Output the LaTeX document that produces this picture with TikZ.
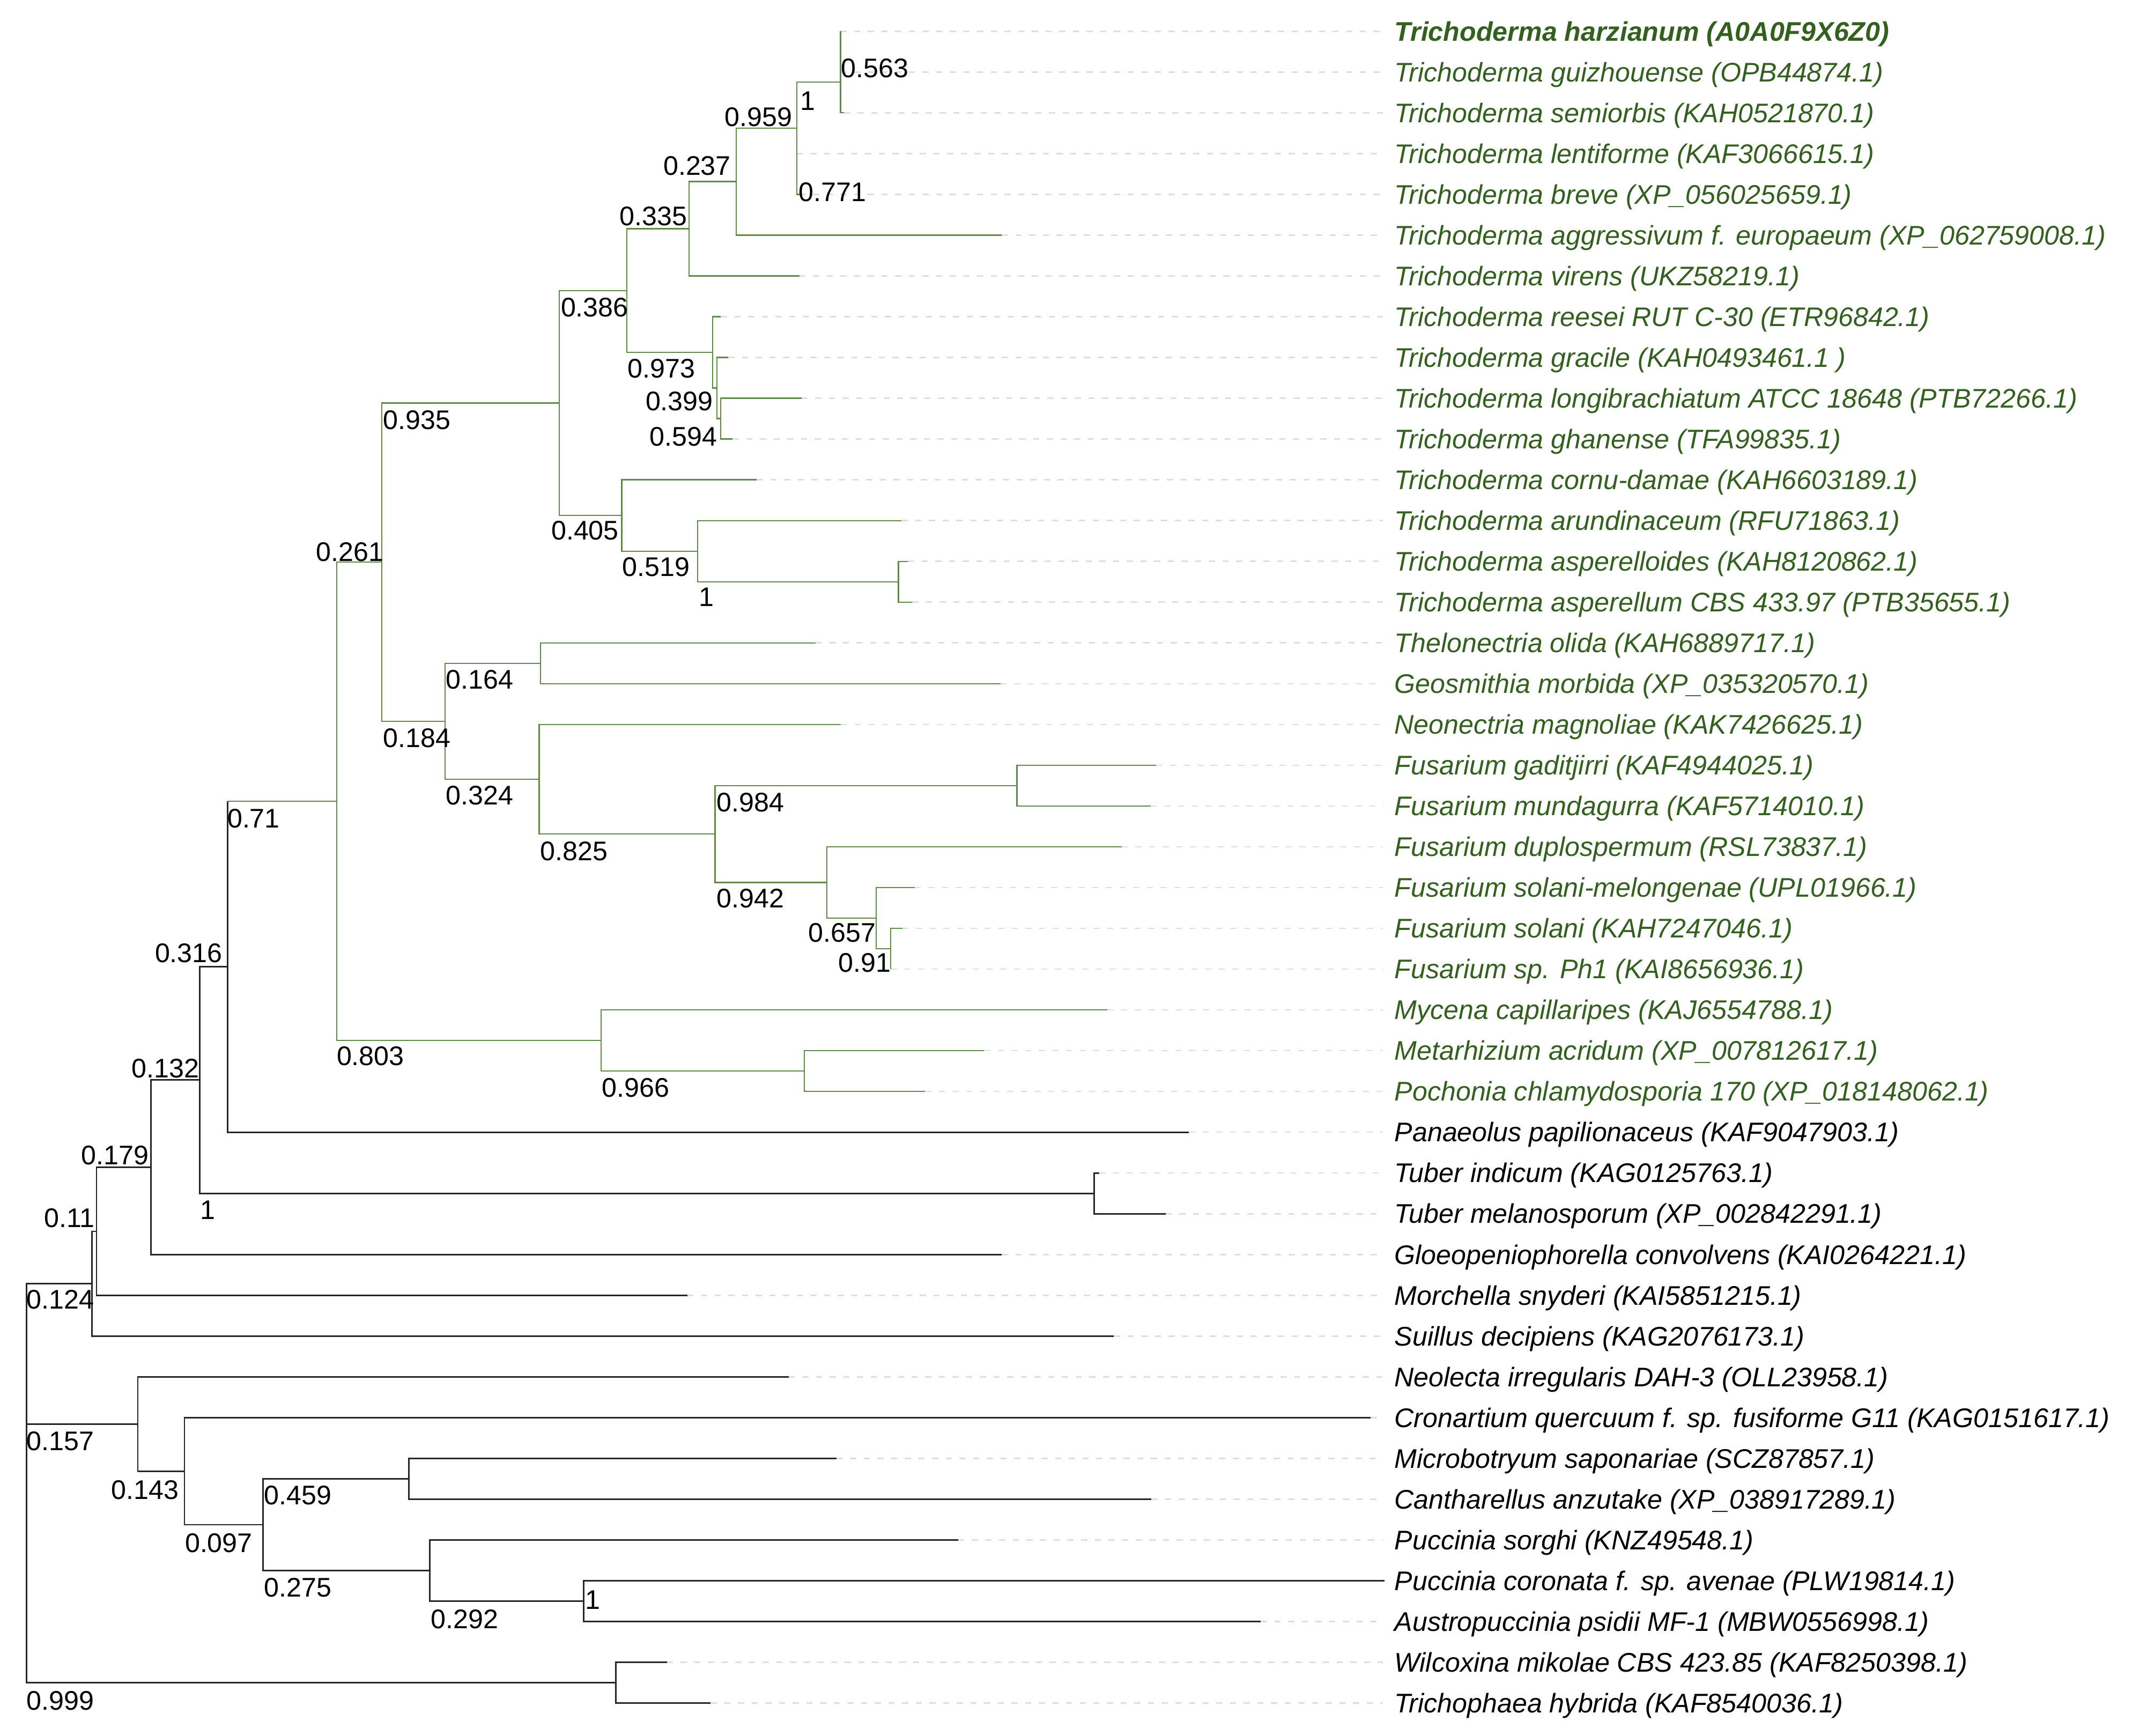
\documentclass[tikz,border=0pt]{standalone}
\usepackage{fontspec}
\setmainfont{Liberation Sans}
\definecolor{branchgreen}{HTML}{5F8A4A}
\definecolor{labelgreen}{HTML}{33601F}
\tikzset{
	gbr/.style={draw=branchgreen, line width=0.45pt},
	kbr/.style={draw=black!85, line width=0.55pt},
	leader/.style={draw=black!13, line width=0.5pt, dash pattern=on 2.25pt off 2.75pt, shorten >=4pt},
	taxon/.style={anchor=base west, inner sep=0pt, font=\fontsize{9.85}{11}\selectfont\itshape},
	gtaxon/.style={taxon, text=labelgreen},
	support/.style={anchor=base west, inner sep=0pt, font=\fontsize{9.85}{11}\selectfont}
}
\begin{document}
\begin{tikzpicture}[x=0.5pt,y=-0.4972pt]
	\useasboundingbox (0,0) rectangle (1560,1277.2);
	
	% leaf tips
	\coordinate (t1) at (615,23);
	\coordinate (t2) at (615,53);
	\coordinate (t3) at (617.5,83);
	\coordinate (t4) at (583,113);
	\coordinate (t5) at (585,143);
	\coordinate (t6) at (733,173);
	\coordinate (t7) at (585,203);
	\coordinate (t8) at (527.4,233);
	\coordinate (t9) at (533,263);
	\coordinate (t10) at (586.4,293);
	\coordinate (t11) at (536,323);
	\coordinate (t12) at (553.8,353);
	\coordinate (t13) at (659.6,383);
	\coordinate (t14) at (664.4,413);
	\coordinate (t15) at (667.5,443);
	\coordinate (t16) at (596.6,473);
	\coordinate (t17) at (732,503);
	\coordinate (t18) at (615.3,533);
	\coordinate (t19) at (846.1,563);
	\coordinate (t20) at (841.9,593);
	\coordinate (t21) at (820.8,623);
	\coordinate (t22) at (669.2,653);
	\coordinate (t23) at (660.2,683);
	\coordinate (t24) at (651.8,713);
	\coordinate (t25) at (810.4,743);
	\coordinate (t26) at (720,773);
	\coordinate (t27) at (677,803);
	\coordinate (t28) at (870,833);
	\coordinate (t29) at (804.4,863);
	\coordinate (t30) at (852.8,893);
	\coordinate (t31) at (733,923);
	\coordinate (t32) at (503,953);
	\coordinate (t33) at (815,983);
	\coordinate (t34) at (577,1013);
	\coordinate (t35) at (1003,1043);
	\coordinate (t36) at (612,1073);
	\coordinate (t37) at (842.5,1103);
	\coordinate (t38) at (701,1133);
	\coordinate (t39) at (1013,1163);
	\coordinate (t40) at (922.5,1193);
	\coordinate (t41) at (488,1223);
	\coordinate (t42) at (520,1253);
	
	% inner nodes
	\coordinate (n563) at (615,38);
	\coordinate (n1a) at (615,60.5);
	\coordinate (n771) at (583,128);
	\coordinate (n959) at (583,94.25);
	\coordinate (n237) at (538.7,133.6);
	\coordinate (n335) at (504.2,168.3);
	\coordinate (n594) at (527.4,308);
	\coordinate (n399) at (524.5,285.5);
	\coordinate (n973) at (521.4,259.25);
	\coordinate (n386) at (458.7,213.8);
	\coordinate (n1b) at (657.4,428);
	\coordinate (n519) at (510.5,405.5);
	\coordinate (n405) at (454.9,379.25);
	\coordinate (n935) at (409.2,296.5);
	\coordinate (n164) at (395.6,488);
	\coordinate (n984) at (744.1,578);
	\coordinate (n91) at (651.8,698);
	\coordinate (n657) at (641,675.5);
	\coordinate (n942) at (605.1,649.25);
	\coordinate (n825) at (523.2,613.6);
	\coordinate (n324) at (394.5,573.3);
	\coordinate (n184) at (325.6,530.7);
	\coordinate (n261) at (279.3,413.6);
	\coordinate (n966) at (588.5,788);
	\coordinate (n803) at (439.9,765.5);
	\coordinate (n71) at (246.3,589.5);
	\coordinate (n316) at (166.6,711.3);
	\coordinate (ntub) at (800.6,878);
	\coordinate (n132) at (146.1,794.6);
	\coordinate (n179) at (110.6,858.8);
	\coordinate (n11) at (70.6,905.9);
	\coordinate (n124) at (67.3,944.5);
	\coordinate (n459) at (299.3,1088);
	\coordinate (npuc) at (427.1,1178);
	\coordinate (n292) at (314.6,1155.5);
	\coordinate (n275) at (192.6,1121.75);
	\coordinate (n097) at (135,1082.4);
	\coordinate (n143) at (100.8,1047.7);
	\coordinate (nwil) at (450.6,1238);
	\coordinate (root) at (19.5,1047.7);
	
	% taxa
	\node[gtaxon, font=\fontsize{9.85}{11}\selectfont\itshape\bfseries] (l1) at (1020,30) {Trichoderma harzianum (A0A0F9X6Z0)};
	\node[gtaxon] (l2) at (1020,60) {Trichoderma guizhouense (OPB44874.1)};
	\node[gtaxon] (l3) at (1020,90) {Trichoderma semiorbis (KAH0521870.1)};
	\node[gtaxon] (l4) at (1020,120) {Trichoderma lentiforme (KAF3066615.1)};
	\node[gtaxon] (l5) at (1020,150) {Trichoderma breve (XP\_056025659.1)};
	\node[gtaxon] (l6) at (1020,180) {Trichoderma aggressivum f. europaeum (XP\_062759008.1)};
	\node[gtaxon] (l7) at (1020,210) {Trichoderma virens (UKZ58219.1)};
	\node[gtaxon] (l8) at (1020,240) {Trichoderma reesei RUT C-30 (ETR96842.1)};
	\node[gtaxon] (l9) at (1020,270) {Trichoderma gracile (KAH0493461.1 )};
	\node[gtaxon] (l10) at (1020,300) {Trichoderma longibrachiatum ATCC 18648 (PTB72266.1)};
	\node[gtaxon] (l11) at (1020,330) {Trichoderma ghanense (TFA99835.1)};
	\node[gtaxon] (l12) at (1020,360) {Trichoderma cornu-damae (KAH6603189.1)};
	\node[gtaxon] (l13) at (1020,390) {Trichoderma arundinaceum (RFU71863.1)};
	\node[gtaxon] (l14) at (1020,420) {Trichoderma asperelloides (KAH8120862.1)};
	\node[gtaxon] (l15) at (1020,450) {Trichoderma asperellum CBS 433.97 (PTB35655.1)};
	\node[gtaxon] (l16) at (1020,480) {Thelonectria olida (KAH6889717.1)};
	\node[gtaxon] (l17) at (1020,510) {Geosmithia morbida (XP\_035320570.1)};
	\node[gtaxon] (l18) at (1020,540) {Neonectria magnoliae (KAK7426625.1)};
	\node[gtaxon] (l19) at (1020,570) {Fusarium gaditjirri (KAF4944025.1)};
	\node[gtaxon] (l20) at (1020,600) {Fusarium mundagurra (KAF5714010.1)};
	\node[gtaxon] (l21) at (1020,630) {Fusarium duplospermum (RSL73837.1)};
	\node[gtaxon] (l22) at (1020,660) {Fusarium solani-melongenae (UPL01966.1)};
	\node[gtaxon] (l23) at (1020,690) {Fusarium solani (KAH7247046.1)};
	\node[gtaxon] (l24) at (1020,720) {Fusarium sp. Ph1 (KAI8656936.1)};
	\node[gtaxon] (l25) at (1020,750) {Mycena capillaripes (KAJ6554788.1)};
	\node[gtaxon] (l26) at (1020,780) {Metarhizium acridum (XP\_007812617.1)};
	\node[gtaxon] (l27) at (1020,810) {Pochonia chlamydosporia 170 (XP\_018148062.1)};
	\node[taxon] (l28) at (1020,840) {Panaeolus papilionaceus (KAF9047903.1)};
	\node[taxon] (l29) at (1020,870) {Tuber indicum (KAG0125763.1)};
	\node[taxon] (l30) at (1020,900) {Tuber melanosporum (XP\_002842291.1)};
	\node[taxon] (l31) at (1020,930) {Gloeopeniophorella convolvens (KAI0264221.1)};
	\node[taxon] (l32) at (1020,960) {Morchella snyderi (KAI5851215.1)};
	\node[taxon] (l33) at (1020,990) {Suillus decipiens (KAG2076173.1)};
	\node[taxon] (l34) at (1020,1020) {Neolecta irregularis DAH-3 (OLL23958.1)};
	\node[taxon] (l35) at (1020,1050) {Cronartium quercuum f. sp. fusiforme G11 (KAG0151617.1)};
	\node[taxon] (l36) at (1020,1080) {Microbotryum saponariae (SCZ87857.1)};
	\node[taxon] (l37) at (1020,1110) {Cantharellus anzutake (XP\_038917289.1)};
	\node[taxon] (l38) at (1020,1140) {Puccinia sorghi (KNZ49548.1)};
	\node[taxon] (l39) at (1020,1170) {Puccinia coronata f. sp. avenae (PLW19814.1)};
	\node[taxon] (l40) at (1020,1200) {Austropuccinia psidii MF-1 (MBW0556998.1)};
	\node[taxon] (l41) at (1020,1230) {Wilcoxina mikolae CBS 423.85 (KAF8250398.1)};
	\node[taxon] (l42) at (1020,1260) {Trichophaea hybrida (KAF8540036.1)};
	
	% leaders
	\draw[leader] (t1) -- (t1 -| l1.west);
	\draw[leader] (t2) -- (t2 -| l2.west);
	\draw[leader] (t3) -- (t3 -| l3.west);
	\draw[leader] (t4) -- (t4 -| l4.west);
	\draw[leader] (t5) -- (t5 -| l5.west);
	\draw[leader] (t6) -- (t6 -| l6.west);
	\draw[leader] (t7) -- (t7 -| l7.west);
	\draw[leader] (t8) -- (t8 -| l8.west);
	\draw[leader] (t9) -- (t9 -| l9.west);
	\draw[leader] (t10) -- (t10 -| l10.west);
	\draw[leader] (t11) -- (t11 -| l11.west);
	\draw[leader] (t12) -- (t12 -| l12.west);
	\draw[leader] (t13) -- (t13 -| l13.west);
	\draw[leader] (t14) -- (t14 -| l14.west);
	\draw[leader] (t15) -- (t15 -| l15.west);
	\draw[leader] (t16) -- (t16 -| l16.west);
	\draw[leader] (t17) -- (t17 -| l17.west);
	\draw[leader] (t18) -- (t18 -| l18.west);
	\draw[leader] (t19) -- (t19 -| l19.west);
	\draw[leader] (t20) -- (t20 -| l20.west);
	\draw[leader] (t21) -- (t21 -| l21.west);
	\draw[leader] (t22) -- (t22 -| l22.west);
	\draw[leader] (t23) -- (t23 -| l23.west);
	\draw[leader] (t24) -- (t24 -| l24.west);
	\draw[leader] (t25) -- (t25 -| l25.west);
	\draw[leader] (t26) -- (t26 -| l26.west);
	\draw[leader] (t27) -- (t27 -| l27.west);
	\draw[leader] (t28) -- (t28 -| l28.west);
	\draw[leader] (t29) -- (t29 -| l29.west);
	\draw[leader] (t30) -- (t30 -| l30.west);
	\draw[leader] (t31) -- (t31 -| l31.west);
	\draw[leader] (t32) -- (t32 -| l32.west);
	\draw[leader] (t33) -- (t33 -| l33.west);
	\draw[leader] (t34) -- (t34 -| l34.west);
	\draw[leader] (t35) -- (t35 -| l35.west);
	\draw[leader] (t36) -- (t36 -| l36.west);
	\draw[leader] (t37) -- (t37 -| l37.west);
	\draw[leader] (t38) -- (t38 -| l38.west);
	\draw[leader] (t40) -- (t40 -| l40.west);
	\draw[leader] (t41) -- (t41 -| l41.west);
	\draw[leader] (t42) -- (t42 -| l42.west);
	
	% green clade
	\draw[gbr] (n563) |- (t1);
	\draw[gbr] (n563) |- (t2);
	\draw[gbr] (n1a) |- (n563);
	\draw[gbr] (n1a) |- (t3);
	\draw[gbr] (n771) |- (t4);
	\draw[gbr] (n771) |- (t5);
	\draw[gbr] (n959) |- (n1a);
	\draw[gbr] (n959) |- (n771);
	\draw[gbr] (n237) |- (n959);
	\draw[gbr] (n237) |- (t6);
	\draw[gbr] (n335) |- (n237);
	\draw[gbr] (n335) |- (t7);
	\draw[gbr] (n594) |- (t10);
	\draw[gbr] (n594) |- (t11);
	\draw[gbr] (n399) |- (t9);
	\draw[gbr] (n399) |- (n594);
	\draw[gbr] (n973) |- (t8);
	\draw[gbr] (n973) |- (n399);
	\draw[gbr] (n386) |- (n335);
	\draw[gbr] (n386) |- (n973);
	\draw[gbr] (n1b) |- (t14);
	\draw[gbr] (n1b) |- (t15);
	\draw[gbr] (n519) |- (t13);
	\draw[gbr] (n519) |- (n1b);
	\draw[gbr] (n405) |- (t12);
	\draw[gbr] (n405) |- (n519);
	\draw[gbr] (n935) |- (n386);
	\draw[gbr] (n935) |- (n405);
	\draw[gbr] (n164) |- (t16);
	\draw[gbr] (n164) |- (t17);
	\draw[gbr] (n984) |- (t19);
	\draw[gbr] (n984) |- (t20);
	\draw[gbr] (n91) |- (t23);
	\draw[gbr] (n91) |- (t24);
	\draw[gbr] (n657) |- (t22);
	\draw[gbr] (n657) |- (n91);
	\draw[gbr] (n942) |- (t21);
	\draw[gbr] (n942) |- (n657);
	\draw[gbr] (n825) |- (n984);
	\draw[gbr] (n825) |- (n942);
	\draw[gbr] (n324) |- (t18);
	\draw[gbr] (n324) |- (n825);
	\draw[gbr] (n184) |- (n164);
	\draw[gbr] (n184) |- (n324);
	\draw[gbr] (n261) |- (n935);
	\draw[gbr] (n261) |- (n184);
	\draw[gbr] (n966) |- (t26);
	\draw[gbr] (n966) |- (t27);
	\draw[gbr] (n803) |- (t25);
	\draw[gbr] (n803) |- (n966);
	\draw[gbr] (n71) |- (n261);
	\draw[gbr] (n71) |- (n803);
	
	% black part
	\draw[kbr] (n316) -- (n316 |- n71);
	\draw[gbr] (n316 |- n71) -- (n71);
	\draw[kbr] (n316) |- (t28);
	\draw[kbr] (ntub) |- (t29);
	\draw[kbr] (ntub) |- (t30);
	\draw[kbr] (n132) |- (n316);
	\draw[kbr] (n132) |- (ntub);
	\draw[kbr] (n179) |- (n132);
	\draw[kbr] (n179) |- (t31);
	\draw[kbr] (n11) |- (n179);
	\draw[kbr] (n11) |- (t32);
	\draw[kbr] (n124) |- (n11);
	\draw[kbr] (n124) |- (t33);
	\draw[kbr] (n459) |- (t36);
	\draw[kbr] (n459) |- (t37);
	\draw[kbr] (npuc) |- (t39);
	\draw[kbr] (npuc) |- (t40);
	\draw[kbr] (n292) |- (t38);
	\draw[kbr] (n292) |- (npuc);
	\draw[kbr] (n275) |- (n459);
	\draw[kbr] (n275) |- (n292);
	\draw[kbr] (n097) |- (t35);
	\draw[kbr] (n097) |- (n275);
	\draw[kbr] (n143) |- (t34);
	\draw[kbr] (n143) |- (n097);
	\draw[kbr] (nwil) |- (t41);
	\draw[kbr] (nwil) |- (t42);
	\draw[kbr] (root) |- (n124);
	\draw[kbr] (root) -- (n143);
	\draw[kbr] (root) |- (nwil);
	
	% support values
	\node[support] (s563) at (615,57) {0.563};
	\node[support] (s1a) at (585,81) {1};
	\node[support] (s959) at (530,93) {0.959};
	\node[support] (s237) at (485,129) {0.237};
	\node[support] (s771) at (584,148) {0.771};
	\node[support] (s335) at (453,166) {0.335};
	\node[support] (s386) at (410,233) {0.386};
	\node[support] (s973) at (459,278) {0.973};
	\node[support] (s399) at (472,302) {0.399};
	\node[support] (s594) at (475,328) {0.594};
	\node[support] (s935) at (280,316) {0.935};
	\node[support] (s261) at (231,413) {0.261};
	\node[support] (s405) at (403,397) {0.405};
	\node[support] (s519) at (455,424) {0.519};
	\node[support] (s1b) at (511,446) {1};
	\node[support] (s164) at (326,507) {0.164};
	\node[support] (s184) at (280,550) {0.184};
	\node[support] (s324) at (326,592) {0.324};
	\node[support] (s825) at (395,633) {0.825};
	\node[support] (s984) at (524,597) {0.984};
	\node[support] (s942) at (524,668) {0.942};
	\node[support] (s657) at (591,693) {0.657};
	\node[support] (s91) at (613,715) {0.91};
	\node[support] (s71) at (166,609) {0.71};
	\node[support] (s803) at (246,784) {0.803};
	\node[support] (s966) at (440,807) {0.966};
	\node[support] (s316) at (113,708) {0.316};
	\node[support] (s132) at (96,793) {0.132};
	\node[support] (s1c) at (146,897) {1};
	\node[support] (s179) at (59,857) {0.179};
	\node[support] (s11) at (32,903) {0.11};
	\node[support] (s124) at (19,963) {0.124};
	\node[support] (s157) at (19,1067) {0.157};
	\node[support] (s143) at (81,1103) {0.143};
	\node[support] (s097) at (135,1142) {0.097};
	\node[support] (s459) at (193,1107) {0.459};
	\node[support] (s275) at (193,1175) {0.275};
	\node[support] (s292) at (315,1198) {0.292};
	\node[support] (s1d) at (428,1184) {1};
	\node[support] (s999) at (19,1258) {0.999};
\end{tikzpicture}
\end{document}
